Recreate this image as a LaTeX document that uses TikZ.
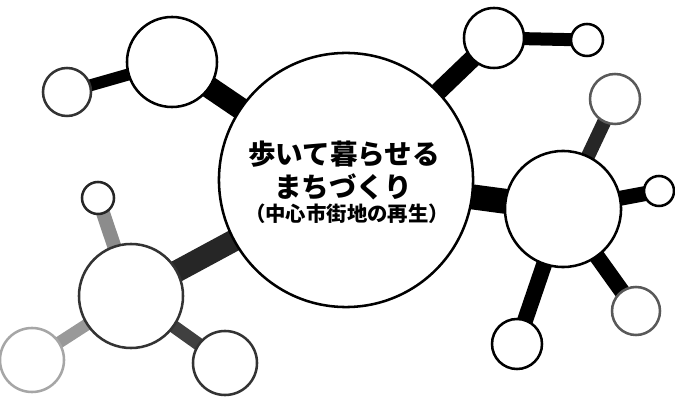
\documentclass[tikz,border=0pt]{standalone}
\usepackage{fontspec}
\newfontfamily\jpfont{Noto Sans CJK JP}[BoldFont={Noto Sans CJK JP Black}]
\usetikzlibrary{backgrounds}

\tikzset{
  bubble/.style={circle, draw, fill=white, line width=1.8pt, inner sep=0pt, minimum size=#1*0.05cm},
  link/.style={line width=#1*0.025cm},
  headline/.style={font=\jpfont\bfseries, inner sep=0pt}
}

\begin{document}
\begin{tikzpicture}[x=0.025cm, y=-0.025cm]

\useasboundingbox (0,0) rectangle (675,398);

% Create the central circle
\node [bubble=127] (center) at (346,180) {};

% Create the outer circles
\foreach \n/\x/\y/\r/\c in {
    topleft/172/62/45/black, leftsmall/67/92/24/black!80,
    topright/494/38/30/black, toprightsmall/587/40/16/black,
    right/563/209/58/black, righttop/615/99/25/black!65,
    rightend/659/191/15/black, rightlow/517/344/25/black,
    rightlowend/636/311/24/black!65,
    bottomleft/131/296/52/black!80, bottomlefttop/98/198/16/black!85,
    bottomleftlow/32/360/32/black!35, bottomleftend/225/363/32/black!80}
  \node [bubble=\r, draw=\c] (\n) at (\x,\y) {};

% Connect the circles
\begin{pgfonlayer}{background}
\foreach \a/\b/\w/\c in {
    leftsmall/topleft/12/black, topleft/center/22/black,
    center/topright/18/black, topright/toprightsmall/13/black,
    center/right/25/black, right/righttop/14/black!85,
    right/rightend/15/black, right/rightlow/16/black,
    right/rightlowend/16/black,
    center/bottomleft/22/black!85, bottomleft/bottomlefttop/14/black!45,
    bottomleft/bottomleftlow/12/black!40, bottomleft/bottomleftend/13/black!75}
  \draw [link=\w, \c] (\a.center) -- (\b.center);
\end{pgfonlayer}

% Label the central circle
\node [headline, font=\jpfont\bfseries\fontsize{19.6}{23}\selectfont] (line-1) at (344,154) {歩いて暮らせる};
\node [headline, font=\jpfont\bfseries\fontsize{19.6}{23}\selectfont] (line-2) at (343,187) {まちづくり};
\node [headline, font=\jpfont\bfseries\fontsize{14.5}{17}\selectfont] (line-3) at (347,214) {（中心市街地の再生）};

\end{tikzpicture}
\end{document}
